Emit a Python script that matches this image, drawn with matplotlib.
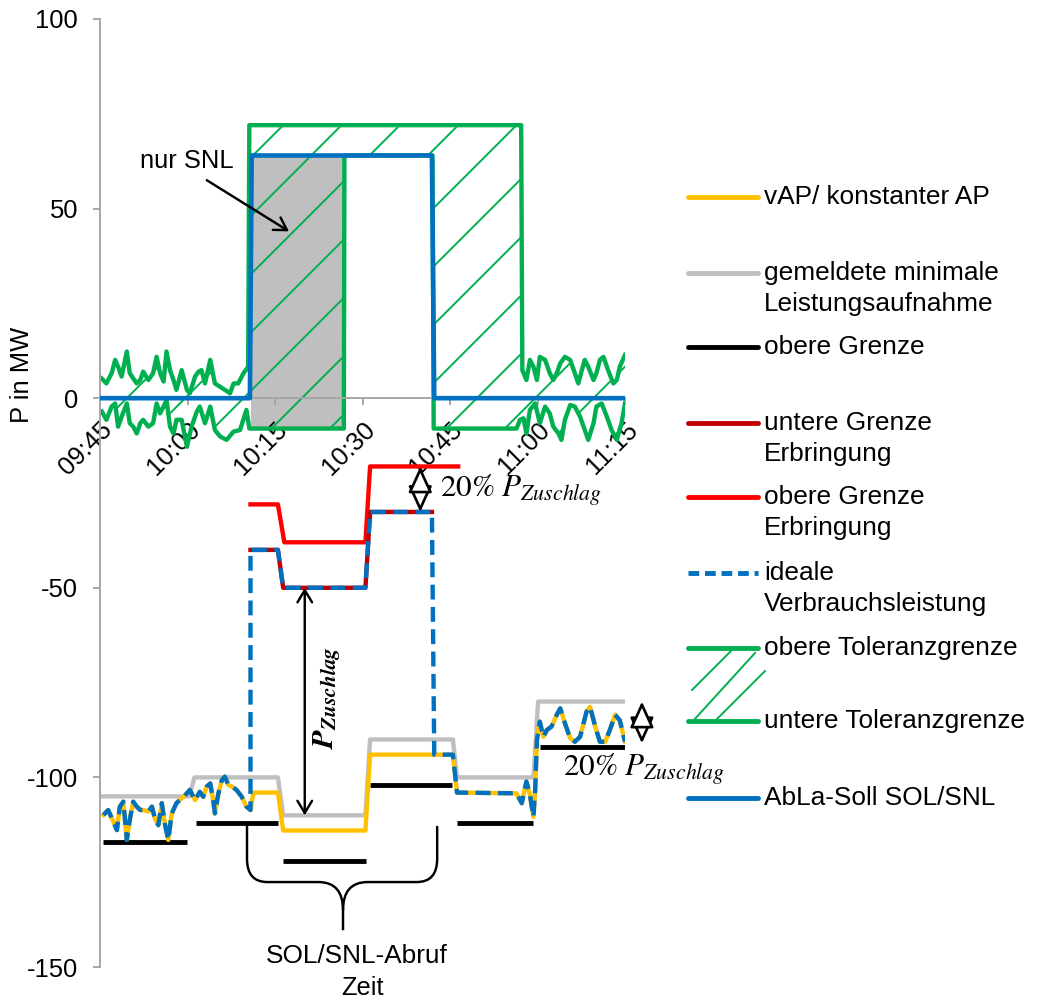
import numpy as np
import matplotlib
matplotlib.use('Agg')
import matplotlib.pyplot as plt
from matplotlib.path import Path
from matplotlib.patches import PathPatch

plt.rcParams['font.family'] = ['Liberation Sans', 'DejaVu Sans']
plt.rcParams['mathtext.fontset'] = 'stix'
plt.rcParams['hatch.linewidth'] = 0.8
plt.rcParams['axes.unicode_minus'] = False

YELLOW = '#FFC000'
GREY = '#BFBFBF'
DARKRED = '#C00000'
RED = '#FF0000'
BLUE = '#0070C0'
GREEN = '#00B050'
AXIS = '#A6A6A6'

# time in minutes after 09:45
tick_minutes = [0, 15, 30, 45, 60, 75, 90]
tick_labels = ['09:45', '10:00', '10:15', '10:30', '10:45', '11:00', '11:15']
y_ticks = [-150, -100, -50, 0, 50, 100]

# AbLa set point SOL/SNL
abla_t = [0, 25.7, 26.0, 56.9, 57.3, 90]
abla_p = [0, 0, 64, 64, 0, 0]

# upper / lower tolerance limit
tol_up_t = [0.3, 1.1, 2.0, 2.6, 3.1, 3.7, 4.6, 5.1, 5.7, 6.3, 6.9, 7.4, 8.3, 9.1, 9.7,
            10.3, 10.9, 11.4, 12.0, 12.6, 13.1, 14.0, 14.9, 15.4, 16.3, 16.9, 17.4, 18.0,
            18.9, 19.7, 20.6, 21.4, 22.3, 22.9, 23.7, 24.6, 25.4, 25.6, 72.2, 72.4, 73.1,
            73.7, 74.3, 74.9, 75.4, 76.3, 77.1, 77.7, 78.3, 78.9, 79.7, 80.6, 81.4, 82.0,
            82.6, 83.1, 83.7, 84.6, 85.1, 85.7, 86.3, 87.1, 88.0, 88.6, 89.1, 90.0]
tol_up_p = [5.2, 3.9, 6.6, 10.1, 8.3, 5.7, 12.3, 6.6, 5.2, 3.9, 4.8, 7.0, 4.8, 6.6, 10.9,
            6.6, 4.4, 12.3, 7.4, 4.8, 2.2, 7.4, 2.2, 1.3, 5.7, 7.0, 7.4, 3.9,
            10.1, 3.9, 3.0, 2.2, 1.3, 3.9, 3.9, 6.6, 8.3, 72, 72, 7.4, 4.8,
            10.1, 8.3, 4.8, 10.9, 10.1, 6.6, 4.8, 6.6, 9.2, 10.9, 10.1, 6.6, 3.9,
            7.4, 10.1, 8.3, 4.8, 6.6, 10.1, 10.9, 7.4, 3.9, 4.8, 8.3, 11.4]
tol_lo_t = [0.3, 1.1, 2.0, 2.6, 3.1, 3.7, 4.6, 5.1, 5.7, 6.3, 6.9, 7.4, 8.3, 9.1, 9.7,
            10.3, 10.9, 11.4, 12.0, 12.6, 13.1, 14.0, 14.9, 15.7, 16.6, 17.1, 18.0, 18.9,
            19.7, 20.6, 21.7, 22.9, 24.0, 25.1, 25.6, 41.8, 41.9, 57.0, 57.2, 71.4, 72.0,
            72.6, 73.1, 73.7, 74.6, 75.4, 76.3, 77.1, 77.7, 78.6, 79.1, 79.7, 80.6, 81.4,
            82.3, 82.9, 83.7, 84.6, 85.1, 86.0, 86.9, 87.7, 88.6, 89.4, 90.0]
tol_lo_p = [-3.5, -5.7, -2.2, -1.4, -7.5, -4.9, -1.4, -6.6, -7.5, -9.3, -6.6, -5.7, -7.5, -6.6, -1.4,
            -4.0, -2.2, -0.5, -7.5, -9.3, -5.7, -5.7, -12.8, -7.5, -3.5, -2.2, -6.6, -2.2,
            -8.4, -10.1, -11.0, -8.8, -8.4, -3.1, -8, -8, 64, 64, -8, -8, -5.7,
            -5.3, -9.3, -3.1, -1.4, -6.6, -2.2, -4.0, -7.5, -9.3, -11.0, -5.7, -1.8, -2.2,
            -4.9, -7.5, -11.0, -6.6, -2.2, -1.4, -4.9, -8.4, -11.0, -6.6, -1.4]

# SNL only share
snl_t = [25.8, 41.8]
snl_lo = [-8, -8]
snl_hi = [64, 64]

# reported minimum power input
gml_t = [0.5, 15.3, 16.2, 30.5, 31.4, 45.5, 46.3, 60.5, 61.2, 74.3, 75.1, 90]
gml_p = [-105, -105, -100, -100, -110, -110, -90, -90, -100, -100, -80, -80]

# upper limit per block
og_start = [0.5, 16.5, 31.4, 46.3, 61.2, 75.4]
og_end = [14.9, 30.5, 45.6, 60.3, 74.2, 90]
og_p = [-117, -112, -122, -102, -112, -92]

# upper / lower limit of delivery
oge_t = [25.8, 30.5, 31.6, 45.5, 46.3, 61.4]
oge_p = [-28, -28, -38, -38, -18, -18]
uge_t = [25.8, 30.5, 31.4, 45.5, 46.3, 56.9]
uge_p = [-40, -40, -50, -50, -30, -30]

# vAP / constant AP
vap_t = [0.6, 1.4, 2.3, 2.9, 3.4, 4.0, 4.6, 5.1, 5.7, 6.3, 6.9, 7.4, 8.3, 8.9, 9.4,
         10.0, 10.6, 11.1, 11.7, 12.3, 13.1, 14.0, 14.9, 15.4, 16.3, 17.1, 17.7, 18.3,
         18.9, 19.4, 19.7, 20.3, 20.9, 21.4, 22.0, 22.6, 23.4, 24.3, 25.1, 25.8, 26.3,
         30.5, 31.4, 45.5, 46.3, 60.5, 61.2, 71.4, 72.3, 73.1, 73.7, 74.3, 74.6, 74.9,
         75.4, 76.0, 76.6, 77.4, 78.3, 78.9, 79.7, 80.6, 81.4, 82.3, 83.4, 84.0, 84.9,
         85.7, 86.6, 87.4, 88.3, 89.1, 90.0]
vap_p = [-109.9, -108.6, -111.7, -113.9, -107.7, -106.4, -116.5, -111.2, -106.4, -107.7, -108.6, -108.6, -109.0, -107.7, -110.8,
         -112.6, -106.8, -112.1, -116.5, -109.5, -106.8, -105.5, -104.2, -103.3, -106.0, -103.8, -105.1, -102.4,
         -101.6, -106.0, -109.5, -104.2, -100.7, -99.8, -102.0, -102.4, -103.3, -105.1, -107.7, -108.6, -104,
         -104, -114, -114, -94, -94, -104, -104.2, -106.8, -101.1, -104.6, -110.4, -103.3, -90.1,
         -85.3, -89.3, -87.5, -86.6, -83.5, -81.8, -85.7, -89.7, -90.6, -89.3, -82.7, -81.4, -86.6,
         -90.6, -90.6, -87.5, -83.5, -84.9, -90.6]

# ideal consumption
ideal_t = [0.6, 1.4, 2.3, 2.9, 3.4, 4.0, 4.6, 5.1, 5.7, 6.3, 6.9, 7.4, 8.3, 8.9, 9.4,
           10.0, 10.6, 11.1, 11.7, 12.3, 13.1, 14.0, 14.9, 15.4, 16.3, 17.1, 17.7, 18.3,
           18.9, 19.4, 19.7, 20.3, 20.9, 21.4, 22.0, 22.6, 23.4, 24.3, 25.1, 25.8, 25.8,
           30.5, 31.4, 45.5, 46.3, 56.9, 57.3, 60.5, 61.2, 71.4, 72.3, 73.1, 73.7, 74.3, 74.6, 74.9,
           75.4, 76.0, 76.6, 77.4, 78.3, 78.9, 79.7, 80.6, 81.4, 82.3, 83.4, 84.0, 84.9,
           85.7, 86.6, 87.4, 88.3, 89.1, 90.0]
ideal_p = [-109.9, -108.6, -111.7, -113.9, -107.7, -106.4, -116.5, -111.2, -106.4, -107.7, -108.6, -108.6, -109.0, -107.7, -110.8,
           -112.6, -106.8, -112.1, -116.5, -109.5, -106.8, -105.5, -104.2, -103.3, -106.0, -103.8, -105.1, -102.4,
           -101.6, -106.0, -109.5, -104.2, -100.7, -99.8, -102.0, -102.4, -103.3, -105.1, -107.7, -108.6, -40,
           -40, -50, -50, -30, -30, -94, -94, -104, -104.2, -106.8, -101.1, -104.6, -110.4, -103.3, -90.1,
           -85.3, -89.3, -87.5, -86.6, -83.5, -81.8, -85.7, -89.7, -90.6, -89.3, -82.7, -81.4, -86.6,
           -90.6, -90.6, -87.5, -83.5, -84.9, -90.6]

W, H, DPI = 1037, 1003, 175
fig = plt.figure(figsize=(W / DPI, H / DPI), dpi=DPI)
ax = fig.add_axes([100 / W, 1 - 967 / H, 525 / W, 948 / H])
ax.set_xlim(0, 90)
ax.set_ylim(-150, 100)

# tolerance band: grey SNL share, hatch, limits
ax.fill_between(snl_t, snl_lo, snl_hi, facecolor='#BFBFBF', edgecolor='none', zorder=1)
band_x = list(tol_up_t) + list(tol_lo_t[::-1])
band_y = list(tol_up_p) + list(tol_lo_p[::-1])
ax.fill(band_x, band_y, facecolor='none', edgecolor=GREEN, hatch='/', linewidth=0, zorder=1.2)
ax.plot(tol_up_t, tol_up_p, color=GREEN, lw=1.8, zorder=2)
ax.plot(tol_lo_t, tol_lo_p, color=GREEN, lw=1.8, zorder=2)
ax.plot(abla_t, abla_p, color=BLUE, lw=1.9, zorder=3)

# lower part
ax.plot(gml_t, gml_p, color=GREY, lw=1.8, zorder=2)
ax.hlines(og_p, og_start, og_end, color='black', lw=2.0, zorder=2)
ax.plot(oge_t, oge_p, color=RED, lw=1.8, zorder=2)
ax.plot(uge_t, uge_p, color=DARKRED, lw=1.8, zorder=2.1)
ax.plot(vap_t, vap_p, color=YELLOW, lw=1.8, zorder=2.2)
ax.plot(ideal_t, ideal_p, color=BLUE, lw=1.8, ls=(0, (3.4, 1.7)), zorder=2.3)

# axes styling
for s in ['top', 'right']:
    ax.spines[s].set_visible(False)
ax.spines['bottom'].set_position(('data', 0))
ax.spines['bottom'].set_color(AXIS)
ax.spines['left'].set_color(AXIS)
ax.set_xticks(tick_minutes)
ax.set_xticklabels(tick_labels, rotation=45, ha='right', va='top', rotation_mode='anchor')
ax.set_yticks(y_ticks)
ax.tick_params(axis='both', colors=AXIS, labelcolor='black', labelsize=10.5, length=3, width=0.8)
ax.tick_params(axis='y', pad=6)
ax.tick_params(axis='x', pad=5)
ax.set_ylabel('P in MW', fontsize=10.5, va='center')
ax.yaxis.set_label_coords(-78 / 525, (967 - 375) / 948)
ax.set_xlabel('Zeit', fontsize=10.5)
ax.xaxis.set_label_coords(0.5, (967 - 988) / 948)
ax.xaxis.label.set_va('center')

# annotations
ax.text(14.9, 62.5, 'nur SNL', fontsize=10.5, ha='center', va='center')
ax.annotate('', xy=(32.4, 44), xytext=(18.3, 57.5),
            arrowprops=dict(arrowstyle='->,head_length=0.5,head_width=0.3', lw=1.0, color='black',
                            shrinkA=0, shrinkB=0))
ax.annotate('', xy=(35.1, -50), xytext=(35.1, -110),
            arrowprops=dict(arrowstyle='<->,head_length=0.5,head_width=0.3', lw=1.0, color='black',
                            shrinkA=0, shrinkB=0))
ax.text(38.9, -79, r'$\mathbfit{P}_{\mathbfit{Zuschlag}}$', rotation=90, fontsize=12.5,
        ha='center', va='center')

def diamond(x, y0, y1):
    ax.annotate('', xy=(x, y1), xytext=(x, y0), annotation_clip=False,
                arrowprops=dict(arrowstyle='<|-|>,head_length=0.92,head_width=0.42',
                                fc='white', ec='black', lw=1.1, shrinkA=0, shrinkB=0))

diamond(54.9, -30, -18)
ax.text(58.3, -24.5, r'$20\%\ P_{Zuschlag}$', fontsize=12.8, ha='left', va='center')
diamond(92.9, -91, -80)
ax.text(93.3, -98, r'$20\%\ P_{Zuschlag}$', fontsize=12.8, ha='center', va='center', clip_on=False)

# brace below the call period
bl, bc, br = 25.2, 41.66, 57.8
btop, bmid, btip = -112.8, -127.6, -140.3
verts = [(bl, btop), (bl, -121.5), (bl, bmid), (bl + 3.5, bmid), (bc - 4.2, bmid), (bc, bmid),
         (bc, -135), (bc, btip), (bc, -135), (bc, bmid), (bc + 4.2, bmid), (br - 3.5, bmid),
         (br, bmid), (br, -121.5), (br, btop)]
codes = [Path.MOVETO, Path.LINETO, Path.CURVE3, Path.CURVE3, Path.LINETO, Path.CURVE3, Path.CURVE3,
         Path.LINETO, Path.MOVETO, Path.CURVE3, Path.CURVE3, Path.LINETO, Path.CURVE3, Path.CURVE3,
         Path.LINETO]
ax.add_patch(PathPatch(Path(verts, codes), facecolor='none', edgecolor='black', lw=1.0))
ax.text(44.1, -147, 'SOL/SNL-Abruf', fontsize=10.8, ha='center', va='center', clip_on=False)

# legend drawn in pixel coordinates
lg = fig.add_axes([0, 0, 1, 1])
lg.set_xlim(0, W)
lg.set_ylim(H, 0)
lg.axis('off')
entries = [
    ('vAP/ konstanter AP', YELLOW, '-', 197),
    ('gemeldete minimale\nLeistungsaufnahme', GREY, '-', 273),
    ('obere Grenze', 'black', '-', 347),
    ('untere Grenze\nErbringung', DARKRED, '-', 423),
    ('obere Grenze\nErbringung', RED, '-', 497),
    ('ideale\nVerbrauchsleistung', BLUE, '--', 573),
    ('obere Toleranzgrenze', GREEN, '-', 648),
    ('untere Toleranzgrenze', GREEN, '-', 721),
    ('AbLa-Soll SOL/SNL', BLUE, '-', 798),
]
for label, col, ls, y in entries:
    lg.plot([688, 758], [y, y], color=col, lw=2.0, ls=ls if ls == '-' else (0, (2.2, 1.2)),
            solid_capstyle='round')
    for i, line in enumerate(label.split('\n')):
        lg.text(764, y + i * 31, line, fontsize=10.8, ha='left', va='center')
for x0, y0, x1, y1 in [(692, 690, 732, 650), (693, 721, 755, 653), (715, 721, 765, 671)]:
    lg.plot([x0, x1], [y0, y1], color=GREEN, lw=0.8)

fig.savefig('out.png', dpi=DPI)
